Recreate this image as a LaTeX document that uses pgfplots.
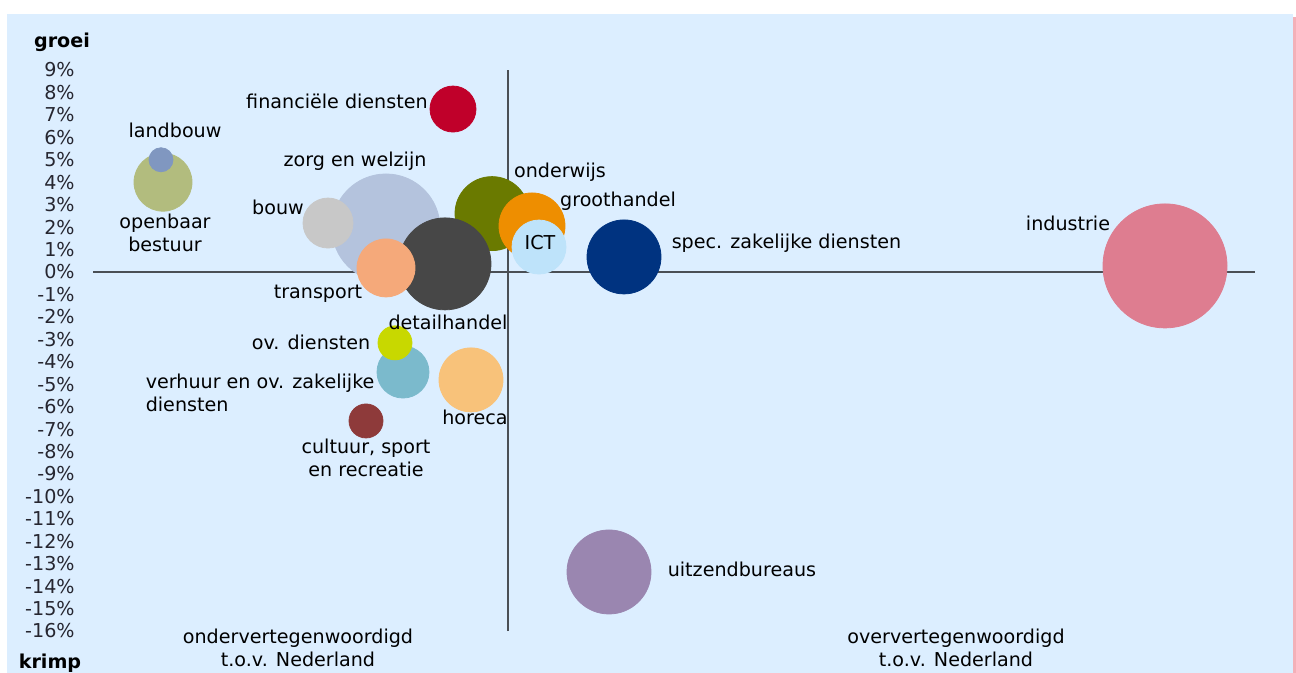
\documentclass[border=0pt]{standalone}
\usepackage{pgfplots}
\pgfplotsset{compat=1.18}
\usepackage{fontspec}
\setmainfont{DejaVu Sans}
\definecolor{bgblue}{HTML}{DCEEFF}
\definecolor{edgepink}{HTML}{F4B0B8}
\definecolor{txt}{HTML}{262630}
\definecolor{linecol}{HTML}{4A4F55}
\definecolor{cland}{HTML}{8097C0}
\definecolor{copen}{HTML}{B2BC7E}
\definecolor{cfin}{HTML}{C0002A}
\definecolor{czorg}{HTML}{B4C3DD}
\definecolor{cbouw}{HTML}{C8C8C8}
\definecolor{ctrans}{HTML}{F5A97A}
\definecolor{cdetail}{HTML}{474747}
\definecolor{conderw}{HTML}{6A7A00}
\definecolor{cgroot}{HTML}{EE8E00}
\definecolor{cict}{HTML}{BEE3FA}
\definecolor{cspec}{HTML}{003380}
\definecolor{cindus}{HTML}{DE7D90}
\definecolor{covd}{HTML}{C8D800}
\definecolor{cverh}{HTML}{7BBACC}
\definecolor{choreca}{HTML}{F8C27A}
\definecolor{ccult}{HTML}{8E3A3A}
\definecolor{cuitz}{HTML}{9A86B0}
\begin{document}
\fontsize{9.6}{11.5}\selectfont
\begin{tikzpicture}
\path[use as bounding box] (0,0) rectangle (648bp,336.5bp);
\fill[white] (0,0) rectangle (648bp,336.5bp);
\fill[bgblue] (3.5bp,0) rectangle (646.5bp,329.5bp);
\fill[edgepink] (646.5bp,0) rectangle (648bp,328bp);
\begin{axis}[
  at={(46.5bp,21bp)}, anchor=south west,
  scale only axis, width=581bp, height=280.5bp,
  xmin=0.17, xmax=2.494, ymin=-16, ymax=9,
  clip=false, clip marker paths=true,
  axis line style={draw=none},
  xtick=\empty,
  ytick={-16,-15,...,9},
  major tick length=0pt,
  yticklabel={\pgfmathparse{int(round(\tick))}\pgfmathresult\%},
  yticklabel style={inner sep=0pt, anchor=east, xshift=-9bp, text=txt},
  every node/.style={text=txt, inner sep=0pt},
  /pgf/number format/assume math mode=true,
]
% cross lines
\draw[linecol, line width=1bp] (axis cs:0.17,0) -- (axis cs:2.494,0);
\draw[linecol, line width=1bp] (axis cs:1,-16) -- (axis cs:1,9);
% bubbles (x = position vs. Nederland, y = growth %)
\addplot[only marks, mark=*, mark size=14.5bp, color=copen] coordinates {(0.31,4.0)};
\addplot[only marks, mark=*, mark size=6bp, color=cland] coordinates {(0.306,5.0)};
\addplot[only marks, mark=*, mark size=11.5bp, color=cfin] coordinates {(0.89,7.26)};
\addplot[only marks, mark=*, mark size=27bp, color=czorg] coordinates {(0.756,1.96)};
\addplot[only marks, mark=*, mark size=12.5bp, color=cbouw] coordinates {(0.64,2.18)};
\addplot[only marks, mark=*, mark size=18.5bp, color=conderw] coordinates {(0.968,2.6)};
\addplot[only marks, mark=*, mark size=16.5bp, color=cgroot] coordinates {(1.048,2.05)};
\addplot[only marks, mark=*, mark size=13.5bp, color=cict] coordinates {(1.062,1.11)};
\addplot[only marks, mark=*, mark size=23bp, color=cdetail] coordinates {(0.874,0.36)};
\addplot[only marks, mark=*, mark size=14.5bp, color=ctrans] coordinates {(0.756,0.18)};
\addplot[only marks, mark=*, mark size=18.5bp, color=cspec] coordinates {(1.232,0.67)};
\addplot[only marks, mark=*, mark size=31bp, color=cindus] coordinates {(2.314,0.27)};
\addplot[only marks, mark=*, mark size=13bp, color=cverh] coordinates {(0.79,-4.46)};
\addplot[only marks, mark=*, mark size=8.5bp, color=covd] coordinates {(0.774,-3.16)};
\addplot[only marks, mark=*, mark size=16bp, color=choreca] coordinates {(0.926,-4.81)};
\addplot[only marks, mark=*, mark size=8.5bp, color=ccult] coordinates {(0.716,-6.64)};
\addplot[only marks, mark=*, mark size=21bp, color=cuitz] coordinates {(1.202,-13.37)};
% labels
\node[font=\bfseries] at (axis cs:0.108,10.25) {groei};
\node[font=\bfseries] at (axis cs:0.084,-17.42) {krimp};
\node at (axis cs:0.334,6.29) {landbouw};
\node[align=center] at (axis cs:0.314,1.74) {openbaar\\bestuur};
\node[anchor=east] at (axis cs:0.853,7.58) {financiële diensten};
\node at (axis cs:0.694,4.95) {zorg en welzijn};
\node at (axis cs:0.54,2.90) {bouw};
\node at (axis cs:0.62,-0.98) {transport};
\node at (axis cs:0.88,-2.23) {detailhandel};
\node at (axis cs:1.104,4.46) {onderwijs};
\node at (axis cs:1.22,3.16) {groothandel};
\node at (axis cs:1.064,1.29) {ICT};
\node[anchor=west] at (axis cs:1.314,1.29) {spec. zakelijke diensten};
\node at (axis cs:2.12,2.18) {industrie};
\node[anchor=east] at (axis cs:0.738,-3.16) {ov. diensten};
\node[anchor=west, align=left] at (axis cs:0.262,-5.37) {verhuur en ov. zakelijke\\diensten};
\node at (axis cs:0.934,-6.46) {horeca};
\node[align=center] at (axis cs:0.716,-8.29) {cultuur, sport\\en recreatie};
\node[anchor=west] at (axis cs:1.306,-13.24) {uitzendbureaus};
\node[align=center] at (axis cs:0.58,-16.76) {ondervertegenwoordigd\\t.o.v. Nederland};
\node[align=center] at (axis cs:1.896,-16.76) {oververtegenwoordigd\\t.o.v. Nederland};
\end{axis}
\end{tikzpicture}
\end{document}
